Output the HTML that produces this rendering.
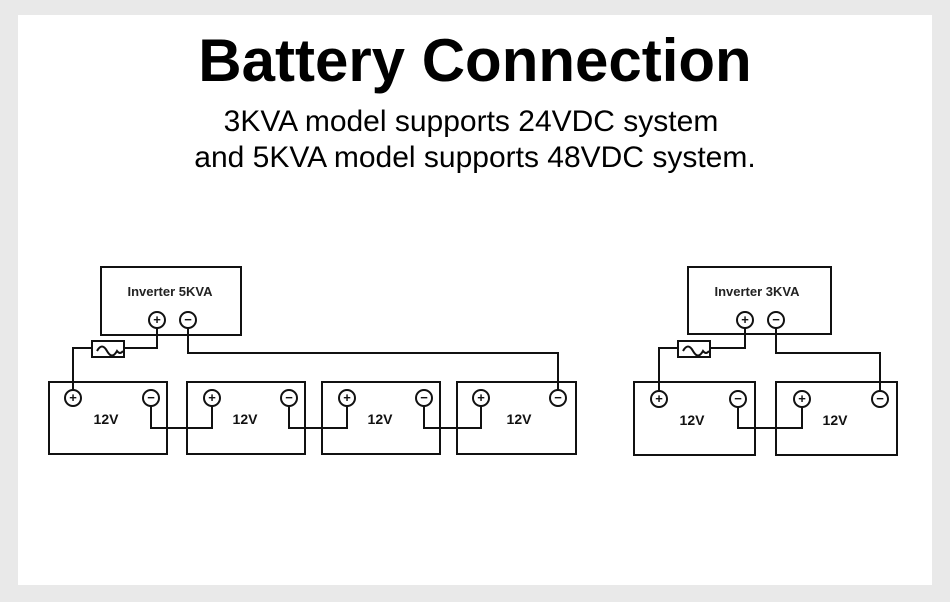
<!DOCTYPE html>
<html><head><style>
body{margin:0;background:#e9e9e9;}
svg{display:block}
</style></head><body>
<svg width="950" height="602" viewBox="0 0 950 602" xmlns="http://www.w3.org/2000/svg" font-family="Liberation Sans, Arial, sans-serif">
<rect x="0" y="0" width="950" height="602" fill="#e9e9e9"/>
<rect x="18" y="15" width="914" height="570" fill="#fff"/>
<text x="475" y="81" text-anchor="middle" font-size="60" font-weight="bold">Battery Connection</text>
<text x="471" y="131" text-anchor="middle" font-size="30">3KVA model supports 24VDC system</text>
<text x="475" y="167" text-anchor="middle" font-size="30">and 5KVA model supports 48VDC system.</text>
<g fill="none" stroke="#111" stroke-width="2">
<rect x="101" y="267" width="140" height="68"/>
<rect x="92" y="341" width="32" height="16"/>
<path d="M97 351 q5 -9 10 0 t10 0 q3 4 6 0"/>
<polyline points="157,327 157,348 124,348"/>
<polyline points="92,348 73,348 73,391"/>
<polyline points="188,327 188,353 558,353 558,391"/>
<rect x="49" y="382" width="118" height="72"/>
<rect x="187" y="382" width="118" height="72"/>
<rect x="322" y="382" width="118" height="72"/>
<rect x="457" y="382" width="119" height="72"/>
<polyline points="151,405 151,428 212,428 212,405"/>
<polyline points="289,405 289,428 347,428 347,405"/>
<polyline points="424,405 424,428 481,428 481,405"/>
<rect x="688" y="267" width="143" height="67"/>
<rect x="678" y="341" width="32" height="16"/>
<path d="M683 351 q5 -9 10 0 t10 0 q3 4 6 0"/>
<polyline points="745,327 745,348 710,348"/>
<polyline points="678,348 659,348 659,392"/>
<polyline points="776,327 776,353 880,353 880,392"/>
<rect x="634" y="382" width="121" height="73"/>
<rect x="776" y="382" width="121" height="73"/>
<polyline points="738,406 738,428 802,428 802,406"/>
</g>
<g fill="#fff" stroke="#111" stroke-width="2">
<circle cx="157" cy="320" r="8"/><circle cx="188" cy="320" r="8"/>
<circle cx="745" cy="320" r="8"/><circle cx="776" cy="320" r="8"/>
<circle cx="73" cy="398" r="8"/><circle cx="151" cy="398" r="8"/>
<circle cx="212" cy="398" r="8"/><circle cx="289" cy="398" r="8"/>
<circle cx="347" cy="398" r="8"/><circle cx="424" cy="398" r="8"/>
<circle cx="481" cy="398" r="8"/><circle cx="558" cy="398" r="8"/>
<circle cx="659" cy="399" r="8"/><circle cx="738" cy="399" r="8"/>
<circle cx="802" cy="399" r="8"/><circle cx="880" cy="399" r="8"/>
</g>
<g font-size="13" font-weight="bold" text-anchor="middle" fill="#111">
<text x="157" y="324">+</text><text x="188" y="324">−</text>
<text x="745" y="324">+</text><text x="776" y="324">−</text>
<text x="73" y="402">+</text><text x="151" y="402">−</text>
<text x="212" y="402">+</text><text x="289" y="402">−</text>
<text x="347" y="402">+</text><text x="424" y="402">−</text>
<text x="481" y="402">+</text><text x="558" y="402">−</text>
<text x="659" y="403">+</text><text x="738" y="403">−</text>
<text x="802" y="403">+</text><text x="880" y="403">−</text>
</g>
<g font-size="13" font-weight="bold" text-anchor="middle" fill="#222">
<text x="170" y="296">Inverter 5KVA</text>
<text x="757" y="296">Inverter 3KVA</text>
</g>
<g font-size="14" font-weight="bold" text-anchor="middle" fill="#111">
<text x="106" y="424">12V</text>
<text x="245" y="424">12V</text>
<text x="380" y="424">12V</text>
<text x="519" y="424">12V</text>
<text x="692" y="425">12V</text>
<text x="835" y="425">12V</text>
</g>
</svg>
</body></html>
